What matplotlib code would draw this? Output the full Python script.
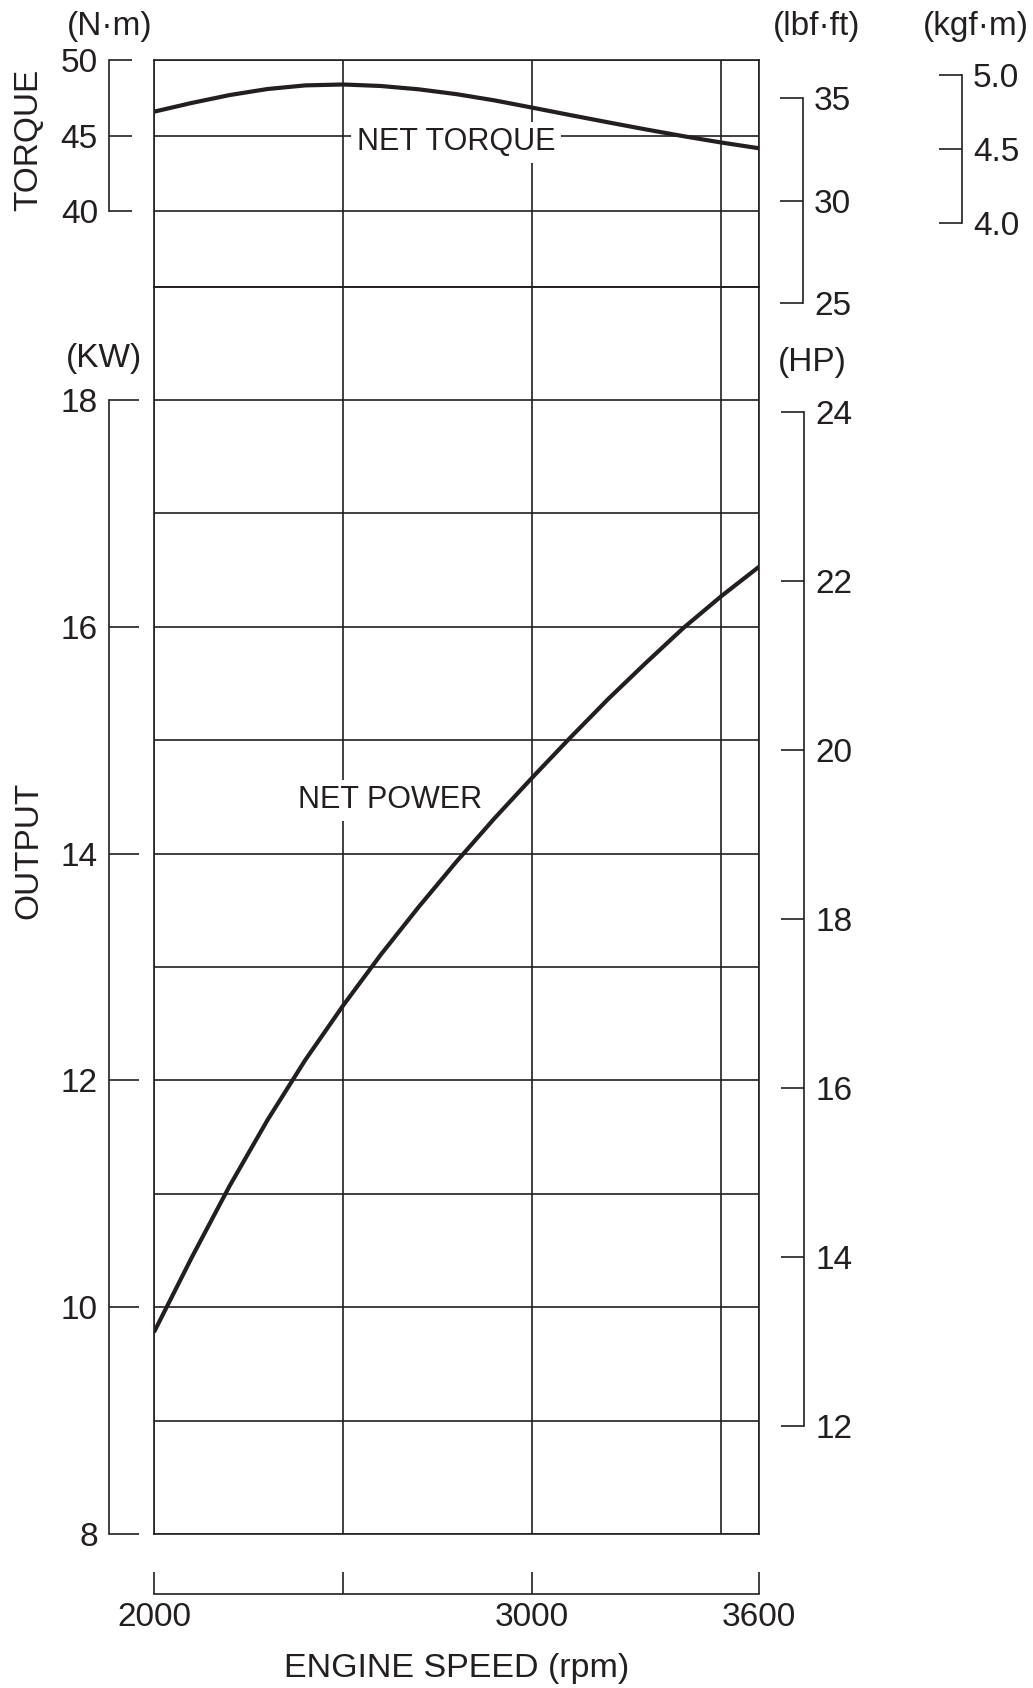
import numpy as np
import matplotlib
matplotlib.use("Agg")
import matplotlib.pyplot as plt

plt.rcParams['font.family'] = ['Liberation Sans', 'DejaVu Sans']

INK = '#231f20'

# engine speed (rpm)
rpm = [2000, 2100, 2200, 2300, 2400, 2500, 2600, 2700, 2800,
       2900, 3000, 3100, 3200, 3300, 3400, 3500, 3600]
# net torque (N·m)
torque = [46.58, 47.16, 47.68, 48.08, 48.32, 48.38, 48.28, 48.06, 47.74,
          47.33, 46.85, 46.36, 45.88, 45.41, 44.96, 44.54, 44.16]
# net power (kW)
power = [9.78, 10.44, 11.07, 11.65, 12.18, 12.66, 13.11, 13.53, 13.93,
         14.31, 14.67, 15.02, 15.36, 15.68, 15.99, 16.27, 16.53]

grid_x = [2000, 2500, 3000, 3500, 3600]
xtick_vals = [2000, 2500, 3000, 3600]
xtick_labels = ['2000', '', '3000', '3600']
nm_ticks = [40, 45, 50]
lbf_ticks = [25, 30, 35]
kgf_ticks = [4.0, 4.5, 5.0]
kw_ticks = [8, 10, 12, 14, 16, 18]
hp_ticks = [12, 14, 16, 18, 20, 22, 24]

W, H = 1033, 1688
fig = plt.figure(figsize=(W / 100, H / 100), dpi=100)

left, right = 154, 759
top_t, bot_t, bot_p = 60, 286.7, 1534
ax_t = fig.add_axes([left / W, 1 - bot_t / H, (right - left) / W, (bot_t - top_t) / H])
ax_p = fig.add_axes([left / W, 1 - bot_p / H, (right - left) / W, (bot_p - bot_t) / H])

for ax in (ax_t, ax_p):
    ax.set_xlim(2000, 3600)
    ax.set_xticks(grid_x)
    ax.grid(True, color=INK, lw=1.2)
    ax.tick_params(length=0, labelleft=False, labelbottom=False)
    for s in ax.spines.values():
        s.set_color(INK)
        s.set_linewidth(1.2)

ax_t.set_ylim(35, 50)
ax_t.set_yticks([35, 40, 45, 50])
ax_p.set_ylim(8, 19)
ax_p.set_yticks(range(8, 20))

# helper axes, same N·m scale as ax_t but reaching lower, so the
# lbf·ft and kgf·m brackets can run past the torque panel
bot_h = 330
nm_per_px = (50 - 35) / (bot_t - top_t)
ax_h = fig.add_axes([left / W, 1 - bot_h / H, (right - left) / W, (bot_h - top_t) / H])
ax_h.set_ylim(50 - (bot_h - top_t) * nm_per_px, 50)
ax_h.set_xlim(2000, 3600)
ax_h.axis('off')

ax_t.plot(rpm, torque, color=INK, lw=3, solid_capstyle='butt', zorder=4)
ax_p.plot(rpm, power, color=INK, lw=3, solid_capstyle='butt', zorder=4)

box = dict(facecolor='white', edgecolor='none', pad=4)
ax_t.text(2799, 44.55, 'NET TORQUE', fontsize=22, color=INK, ha='center', va='center',
          bbox=box, zorder=5)
ax_p.text(2623, 14.47, 'NET POWER', fontsize=22, color=INK, ha='center', va='center',
          bbox=box, zorder=5)

span = right - left


def bracket(sec, side, ticks, lo, hi, length=16.5, pad=8):
    sec.set_yticks(ticks)
    sec.set_yticklabels([f'{t:.1f}' if isinstance(t, float) else str(t) for t in ticks])
    sec.spines[side].set_bounds(lo, hi)
    sec.spines[side].set_color(INK)
    sec.spines[side].set_linewidth(1.2)
    sec.tick_params(direction='in', length=length, width=1.2, color=INK,
                    labelsize=24, labelcolor=INK, pad=pad)


sec_nm = ax_t.secondary_yaxis(-45 / span, functions=(lambda v: v, lambda v: v))
bracket(sec_nm, 'left', nm_ticks, 40, 50)

sec_lbf = ax_h.secondary_yaxis(1 + 44 / span, functions=(lambda v: v / 1.35582, lambda v: v * 1.35582))
bracket(sec_lbf, 'right', lbf_ticks, 25, 35)

sec_kgf = ax_h.secondary_yaxis(1 + 203 / span, functions=(lambda v: v / 9.80665, lambda v: v * 9.80665))
bracket(sec_kgf, 'right', kgf_ticks, 4.0, 5.0)

sec_kw = ax_p.secondary_yaxis(-45 / span, functions=(lambda v: v, lambda v: v))
bracket(sec_kw, 'left', kw_ticks, 8, 18, length=21.5)

sec_hp = ax_p.secondary_yaxis(1 + 45 / span, functions=(lambda v: v / 0.7457, lambda v: v * 0.7457))
bracket(sec_hp, 'right', hp_ticks, 12, 24)

sec_x = ax_p.secondary_xaxis(-60 / (bot_p - bot_t), functions=(lambda v: v, lambda v: v))
sec_x.set_xticks(xtick_vals)
sec_x.set_xticklabels(xtick_labels)
sec_x.spines['bottom'].set_bounds(2000, 3600)
sec_x.spines['bottom'].set_color(INK)
sec_x.spines['bottom'].set_linewidth(1.2)
sec_x.tick_params(direction='in', length=16, width=1.2, color=INK,
                  labelsize=24, labelcolor=INK, pad=6)


def ftext(x, y, s, size=24, **kw):
    fig.text(x / W, 1 - y / H, s, fontsize=size, color=INK, ha='center', va='center', **kw)


ftext(110, 26, '(N·m)')
ftext(817, 26, '(lbf·ft)')
ftext(976, 26, '(kgf·m)')
ftext(104.5, 359, '(KW)')
ftext(812, 363, '(HP)')
ftext(29, 140, 'TORQUE', rotation=90)
ftext(29, 850, 'OUTPUT', rotation=90)
ftext(456.5, 1668, 'ENGINE SPEED (rpm)', size=24.5)

fig.savefig('out.png', dpi=100, facecolor='white')
